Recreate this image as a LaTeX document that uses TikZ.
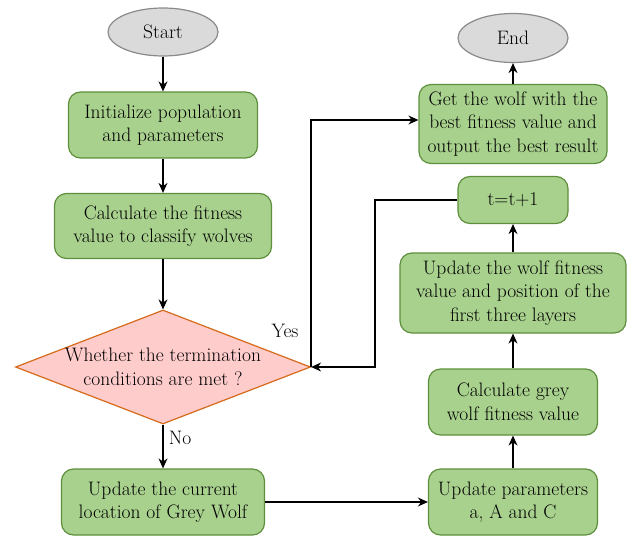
\documentclass[tikz,border=0pt]{standalone}
\usepackage{fontspec}
\usetikzlibrary{shapes.geometric,arrows.meta}
\definecolor{gfill}{HTML}{A9D18E}
\definecolor{gdraw}{HTML}{5E8F3C}
\definecolor{efill}{HTML}{DADADA}
\definecolor{edraw}{HTML}{8A8A8A}
\definecolor{dfill}{HTML}{FFCCCC}
\definecolor{ddraw}{HTML}{D46A1A}
\begin{document}
\begin{tikzpicture}[x=1pt,y=-1pt,
  font=\rmfamily\fontsize{19.5}{23.5}\selectfont,
  gbox/.style={draw=gdraw,fill=gfill,line width=1.2pt,rounded corners=12pt,align=center,inner sep=0pt},
  term/.style={ellipse,draw=edraw,fill=efill,line width=1.2pt,inner sep=0pt},
  dec/.style={diamond,draw=ddraw,fill=dfill,line width=1.2pt,inner sep=0pt,align=center},
  arr/.style={-{Stealth[length=10pt,width=9pt]},line width=1.3pt}]
\useasboundingbox (0,0) rectangle (628,537);
\node[term,minimum width=110pt,minimum height=48pt] (start) at (163,32) {Start};
\node[gbox,minimum width=189pt,minimum height=66pt] (init) at (163,125) {Initialize population\\and parameters};
\node[gbox,minimum width=217pt,minimum height=65pt] (calc) at (163,226) {Calculate the fitness\\value to classify wolves};
\node[dec,minimum width=295pt,minimum height=114pt] (cond) at (163,367) {};
\node[align=center] at (163,367) {Whether the termination\\conditions are met ?};
\node[gbox,minimum width=203pt,minimum height=66pt] (updloc) at (163,502) {Update the current\\location of Grey Wolf};
\node[term,minimum width=110pt,minimum height=49pt] (end) at (513,38) {End};
\node[gbox,minimum width=188pt,minimum height=79pt] (get) at (513,124) {Get the wolf with the\\best fitness value and\\output the best result};
\node[gbox,minimum width=110pt,minimum height=47pt] (tinc) at (513,200) {t=t+1};
\node[gbox,minimum width=226pt,minimum height=80pt] (updfit) at (513,293) {Update the wolf fitness\\value and position of the\\first three layers};
\node[gbox,minimum width=169pt,minimum height=66pt] (calcg) at (513,402) {Calculate grey\\wolf fitness value};
\node[gbox,minimum width=169pt,minimum height=66pt] (updpar) at (513,502) {Update parameters\\a, A and C};
\coordinate (y1) at (311,120);
\coordinate (t1) at (375,200);
\draw[arr] (start) -- (init);
\draw[arr] (init) -- (calc);
\draw[arr] (calc) -- (cond);
\draw[arr] (cond) -- node[right,xshift=2pt,pos=0.3]{No} (updloc);
\draw[arr] (cond.east) -- (cond.east |- y1) -- (get.west |- y1);
\node at (285,331) {Yes};
\draw[arr] (tinc.west) -- (t1) -- (t1 |- cond.east) -- (cond.east);
\draw[arr] (updloc) -- (updpar);
\draw[arr] (updpar) -- (calcg);
\draw[arr] (calcg) -- (updfit);
\draw[arr] (updfit) -- (tinc);
\draw[arr] (get) -- (end);
\end{tikzpicture}
\end{document}
